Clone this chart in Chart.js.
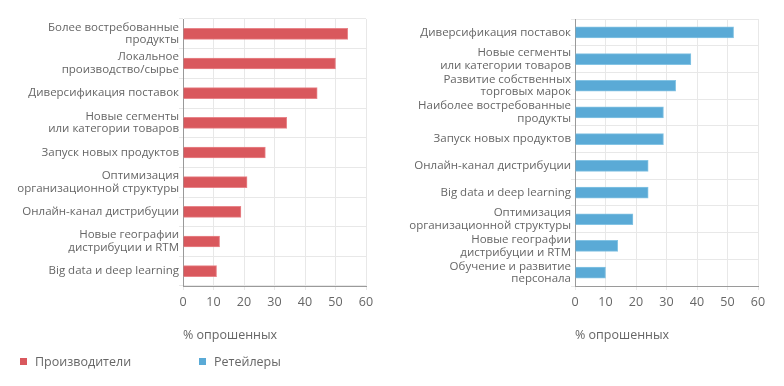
<!DOCTYPE html>
<html>
<head>
<meta charset="utf-8">
<script src="https://cdn.jsdelivr.net/npm/chart.js@4/dist/chart.umd.min.js"></script>
<style>
  body { margin: 0; background: #fff; }
  #wrap { position: relative; width: 784px; height: 386px; font-family: "Open Sans", sans-serif; }
  .box { position: absolute; top: 0; width: 392px; height: 386px; }
  .legend { position: absolute; top: 353px; font-size: 12.5px; color: #666; line-height: 18px; }
  .legend span { display: inline-block; width: 7px; height: 7px; margin-right: 8px; vertical-align: 1px; }
</style>
</head>
<body>
<div id="wrap">
  <div class="box" style="left:0"><canvas id="leftChart" width="392" height="386"></canvas></div>
  <div class="box" style="left:392px"><canvas id="rightChart" width="392" height="386"></canvas></div>
  <div class="legend" style="left:20px"><span style="background:#d9585d"></span>Производители</div>
  <div class="legend" style="left:199px"><span style="background:#5aaad6"></span>Ретейлеры</div>
</div>
<script>
// Producers
const leftLabels = [
    ['Более востребованные', 'продукты'],
    ['Локальное', 'производство/сырье'],
    'Диверсификация поставок',
    ['Новые сегменты', 'или категории товаров'],
    'Запуск новых продуктов',
    ['Оптимизация', 'организационной структуры'],
    'Онлайн-канал дистрибуции',
    ['Новые географии', 'дистрибуции и RTM'],
    'Big data и deep learning'
];
const leftValues = [54, 50, 44, 34, 27, 21, 19, 12, 11];

// Retailers
const rightLabels = [
    'Диверсификация поставок',
    ['Новые сегменты', 'или категории товаров'],
    ['Развитие собственных', 'торговых марок'],
    ['Наиболее востребованные', 'продукты'],
    'Запуск новых продуктов',
    'Онлайн-канал дистрибуции',
    'Big data и deep learning',
    ['Оптимизация', 'организационной структуры'],
    ['Новые географии', 'дистрибуции и RTM'],
    ['Обучение и развитие', 'персонала']
];
const rightValues = [52, 38, 33, 29, 29, 24, 24, 19, 14, 10];

const xTicks = [0, 10, 20, 30, 40, 50, 60];
const axisTitle = '% опрошенных';

const gridColor = '#e8e8e8';
const axisColor = '#9a9a9a';
const textColor = '#666';

function makeChart(id, labels, values, color, border) {
    const ctx = document.getElementById(id).getContext('2d');
    return new Chart(ctx, {
        type: 'bar',
        data: {
            labels: labels,
            datasets: [{
                data: values,
                backgroundColor: color,
                borderColor: border,
                borderWidth: 1,
                barThickness: 11,
            }],
        },
        options: {
            indexAxis: 'y',
            responsive: false,
            animation: false,
            layout: { padding: { top: 19, right: 26, bottom: 43, left: 0 } },
            plugins: { legend: { display: false }, tooltip: { enabled: false } },
            scales: {
                x: {
                    min: xTicks[0],
                    max: xTicks[xTicks.length - 1],
                    afterBuildTicks: (scale) => { scale.ticks = xTicks.map(v => ({ value: v })); },
                    grid: { color: gridColor, tickLength: 4 },
                    border: { color: axisColor },
                    ticks: { color: textColor, padding: 5, font: { family: 'Open Sans', size: 12.5 } },
                    title: {
                        display: true,
                        text: axisTitle,
                        align: 'start',
                        color: textColor,
                        padding: { top: 13, bottom: 0 },
                        font: { family: 'Open Sans', size: 12.5 },
                    },
                },
                y: {
                    afterFit: (scale) => { scale.width = 183; },
                    grid: { color: gridColor, tickLength: 4, offset: true },
                    border: { color: axisColor },
                    ticks: { color: textColor, padding: 0, autoSkip: false, font: { family: 'Open Sans', size: 11.5, lineHeight: 1.1 } },
                },
            },
        },
    });
}

makeChart('leftChart', leftLabels, leftValues, '#d9585d', 'rgba(230,120,125,0.9)');
makeChart('rightChart', rightLabels, rightValues, '#5aaad6', 'rgba(120,190,225,0.9)');
</script>
</body>
</html>
